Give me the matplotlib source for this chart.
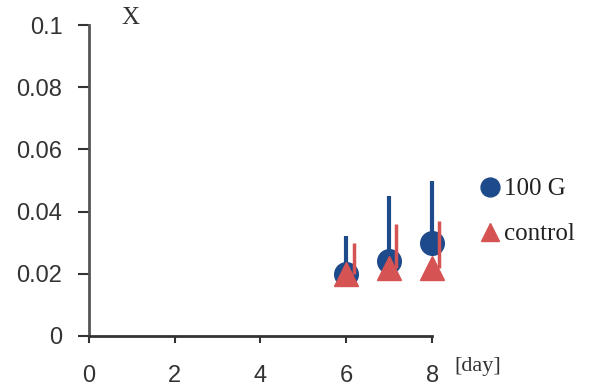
import numpy as np
import matplotlib
matplotlib.use("Agg")
import matplotlib.pyplot as plt

# values
days = [6, 7, 8]
g100 = [0.020, 0.024, 0.030]
g100_err = [0.012, 0.021, 0.020]
control = [0.020, 0.022, 0.022]
control_err = [0.010, 0.014, 0.015]

blue = '#1d4a8a'
red = '#d65353'

fig = plt.figure(figsize=(5.96, 3.87), dpi=100)
ax = fig.add_axes([0.149, 0.132, 0.576, 0.803])

d = np.array(days, dtype=float)
# one-sided (upper) error bars, control bars sit a little to the right
eb1 = ax.errorbar(d, g100, yerr=[np.zeros(3), g100_err], fmt='none', ecolor=blue,
                  elinewidth=3, capsize=0, zorder=2)
eb2 = ax.errorbar(d + 0.17, control, yerr=[np.zeros(3), control_err], fmt='none',
                  ecolor=red, elinewidth=2.5, capsize=0, zorder=4)
for eb in (eb1, eb2):
    for c in eb.lines[2]:
        c.set_clip_on(False)
ax.plot(d, g100, 'o', color=blue, markersize=17, label='100 G', zorder=3,
        clip_on=False)
ax.plot(d, control, '^', color=red, markersize=17, label='control', zorder=3,
        clip_on=False)

ax.set_xlim(0, 8)
ax.set_ylim(0, 0.1)
ax.set_xticks([0, 2, 4, 6, 8])
ax.set_yticks([0, 0.02, 0.04, 0.06, 0.08, 0.1])
ax.set_yticklabels(['0', '0.02', '0.04', '0.06', '0.08', '0.1'])
for s in ['top', 'right']:
    ax.spines[s].set_visible(False)
ax.spines['left'].set_color('#555555')
ax.spines['left'].set_linewidth(2)
ax.spines['bottom'].set_color('#333333')
ax.spines['bottom'].set_linewidth(2)
ax.tick_params(axis='y', length=8, width=1.5, pad=11, labelsize=17,
               labelcolor='#333333', color='#333333')
ax.tick_params(axis='x', length=5, width=1.5, pad=16, labelsize=17,
               labelcolor='#333333', color='#333333')
for lab in ax.get_xticklabels() + ax.get_yticklabels():
    lab.set_fontfamily('Liberation Sans')

fig.text(130 / 596, 1 - 18 / 387, 'X', family='Liberation Serif', fontsize=18,
         ha='center', va='center', color='#333333')
fig.text(478 / 596, 1 - 366 / 387, '[day]', family='Liberation Serif',
         fontsize=16, ha='center', va='center', color='#333333')

ax.legend(loc='center left', bbox_to_anchor=(1.093, 0.40), frameon=False,
          prop={'family': 'Liberation Serif', 'size': 18}, handletextpad=-0.1,
          markerscale=0.8, labelspacing=0.9, borderaxespad=0.0,
          handlelength=1.3)
plt.setp(ax.get_legend().get_texts(), color='#222222')

fig.savefig('out.png', dpi=100)
